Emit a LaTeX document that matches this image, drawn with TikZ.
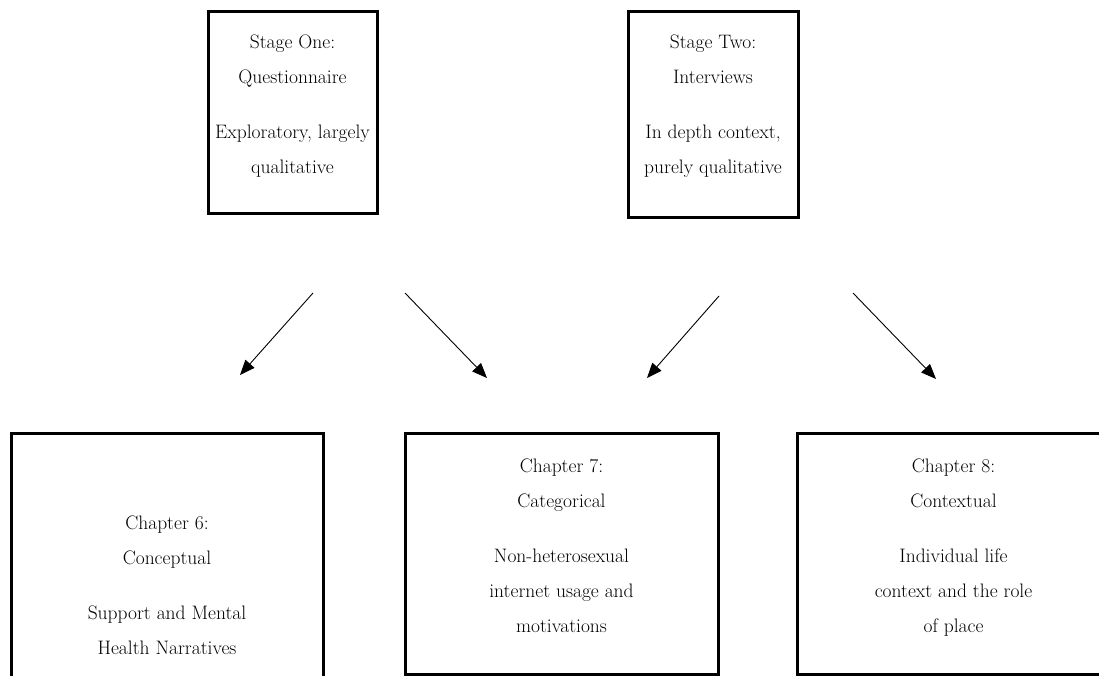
\documentclass[tikz,border=0pt]{standalone}
\usepackage{fontspec}
\usetikzlibrary{arrows.meta}

\tikzset{
  stagebox/.style={draw, line width=3pt, align=center, inner sep=0pt, anchor=north,
    font=\fontsize{19.5}{35}\selectfont},
  flow/.style={line width=0.9pt, -{Triangle[length=15pt,width=12pt]}},
}

\begin{document}
\begin{tikzpicture}[x=1pt,y=-1pt]
  \useasboundingbox (0,0) rectangle (1099,675);
  \begin{scope}
  \clip (0,0) rectangle (1099,675);
  % stages
  \node[stagebox, minimum width=169pt, text height=162pt, text depth=40pt] (s1) at (292.5,10)
    {Stage One:\\Questionnaire\\[20pt]Exploratory, largely\\qualitative};
  \node[stagebox, minimum width=170pt, text height=162pt, text depth=44pt] (s2) at (713,10)
    {Stage Two:\\Interviews\\[20pt]In depth context,\\purely qualitative};
  % chapters
  \node[stagebox, minimum width=312pt, text height=221pt, text depth=300pt] (c6) at (167,432)
    {Chapter 6:\\Conceptual\\[20pt]Support and Mental\\Health Narratives};
  \node[stagebox, minimum width=313pt, text height=199pt, text depth=42pt] (c7) at (561.5,432)
    {Chapter 7:\\Categorical\\[20pt]Non-heterosexual\\internet usage and\\motivations};
  \node[stagebox, minimum width=313pt, text height=199pt, text depth=42pt] (c8) at (953.5,432)
    {Chapter 8:\\Contextual\\[20pt]Individual life\\context and the role\\of place};
  \end{scope}
  % arrows
  \coordinate (a1) at (313,293);  \coordinate (b1) at (240,375);
  \coordinate (a2) at (405,293);  \coordinate (b2) at (487,378);
  \coordinate (a3) at (719,296);  \coordinate (b3) at (647,378);
  \coordinate (a4) at (853,293);  \coordinate (b4) at (936,379);
  \draw[flow] (a1) -- (b1);
  \draw[flow] (a2) -- (b2);
  \draw[flow] (a3) -- (b3);
  \draw[flow] (a4) -- (b4);
\end{tikzpicture}
\end{document}
